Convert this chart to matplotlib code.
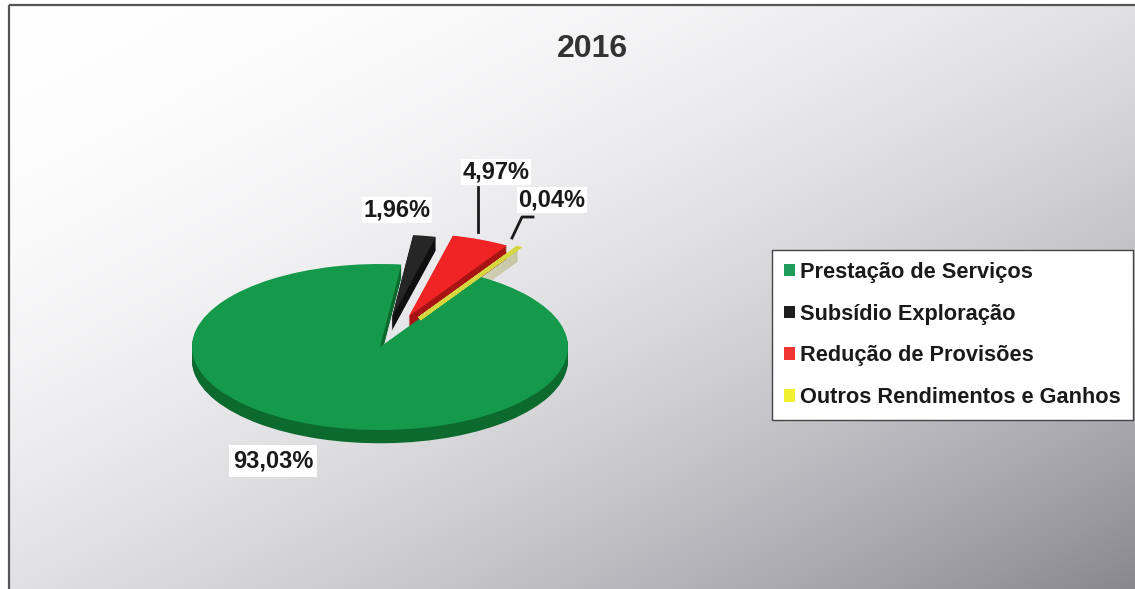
import numpy as np
import matplotlib
matplotlib.use("Agg")
import matplotlib.pyplot as plt
from matplotlib.patches import Rectangle, Patch
from matplotlib.lines import Line2D

# ---- data ----
categories = ["Prestação de Serviços", "Subsídio Exploração",
              "Redução de Provisões", "Outros Rendimentos e Ganhos"]
values = [93.03, 1.96, 4.97, 0.04]
title = "2016"

top_colors = ["#149a4a", "#262626", "#f02424", "#d6d640"]
side_colors = ["#0d6a2e", "#0f0f0f", "#a81414", "#8c8c22"]
legend_colors = ["#1e9e58", "#1e1e1e", "#f03434", "#f0f030"]
explode = [0.0, 0.36, 0.40, 0.40]

W, H = 1135, 589
fig = plt.figure(figsize=(W / 100, H / 100), dpi=100)

def fx(x):
    return x / W

def fy(y):
    return 1 - y / H

# ---- background gradient ----
bax = fig.add_axes([0, 0, 1, 1], zorder=0)
yy, xx = np.mgrid[0:H, 0:W]
t = (xx / W + yy / H) / 2
v = 1 - 0.47 * t ** 2
img = np.dstack([v, v, np.clip(v + 0.02 * t, 0, 1)])
img[:, :9, :] = 1.0
img[:5, :, :] = 1.0
bax.imshow(img, extent=(0, W, H, 0), aspect="auto", interpolation="bilinear")
bax.add_patch(Rectangle((9, 5), W, H, fill=False, edgecolor="#555555", lw=1.6))
bax.set_xlim(0, W)
bax.set_ylim(H, 0)
bax.axis("off")

# ---- pie (pseudo 3D) ----
ax = fig.add_axes([0.08634, 0.1995, 0.4969, 0.5073], zorder=1)
ax.patch.set_alpha(0)
start = 58.4
depth = 0.16
layers = 12
for k in range(layers, 0, -1):
    ax.pie(values, colors=side_colors, startangle=start, counterclock=False,
           explode=explode, center=(0, -depth * k / layers),
           wedgeprops=dict(linewidth=0))
wedges, _ = ax.pie(values, colors=top_colors, startangle=start, counterclock=False,
                   explode=explode, wedgeprops=dict(linewidth=0))
wedges[3].set_edgecolor(top_colors[3])
wedges[3].set_linewidth(3)
ax.set_aspect("auto")
ax.set_xlim(-1.5, 1.5)
ax.set_ylim(-1.5, 2.1)
ax.axis("off")

# ---- labels ----
def fmt(v):
    return f"{v:.2f}".replace(".", ",") + "%"

label_pos = [(273, 461), (397, 210), (496, 172), (552, 200)]
for val, (x, y) in zip(values, label_pos):
    fig.text(fx(x), fy(y), fmt(val), ha="center", va="center", fontsize=17,
             fontweight="bold", family="Liberation Sans", color="#1a1a1a",
             zorder=5,
             bbox=dict(facecolor="white", edgecolor="none", pad=3 if val > 50 else 1))

fig.add_artist(Line2D([fx(478), fx(478)], [fy(187), fy(232)], color="#1a1a1a", lw=2,
                      transform=fig.transFigure, zorder=5))
fig.add_artist(Line2D([fx(533), fx(522), fx(512)], [fy(217), fy(217), fy(238)],
                      color="#1a1a1a", lw=2, transform=fig.transFigure, zorder=5))

# ---- title ----
fig.text(fx(592), fy(49), title, ha="center", va="center", fontsize=23,
         fontweight="bold", family="Liberation Sans", color="#333333")

# ---- legend ----
handles = [Patch(facecolor=c, edgecolor="none") for c in legend_colors]
leg = fig.legend(handles=handles, labels=categories, loc="upper left",
                 bbox_to_anchor=(fx(772), fy(250)), frameon=True, fancybox=False,
                 edgecolor="#444444", facecolor="white", framealpha=1,
                 prop=dict(family="Liberation Sans", weight="bold", size=15.7),
                 handlelength=0.5, handleheight=0.5, handletextpad=0.25,
                 labelspacing=0.95, borderpad=0.55, borderaxespad=0)
for txt in leg.get_texts():
    txt.set_color("#1a1a1a")
leg.set_zorder(6)

fig.savefig("out.png", dpi=100)
